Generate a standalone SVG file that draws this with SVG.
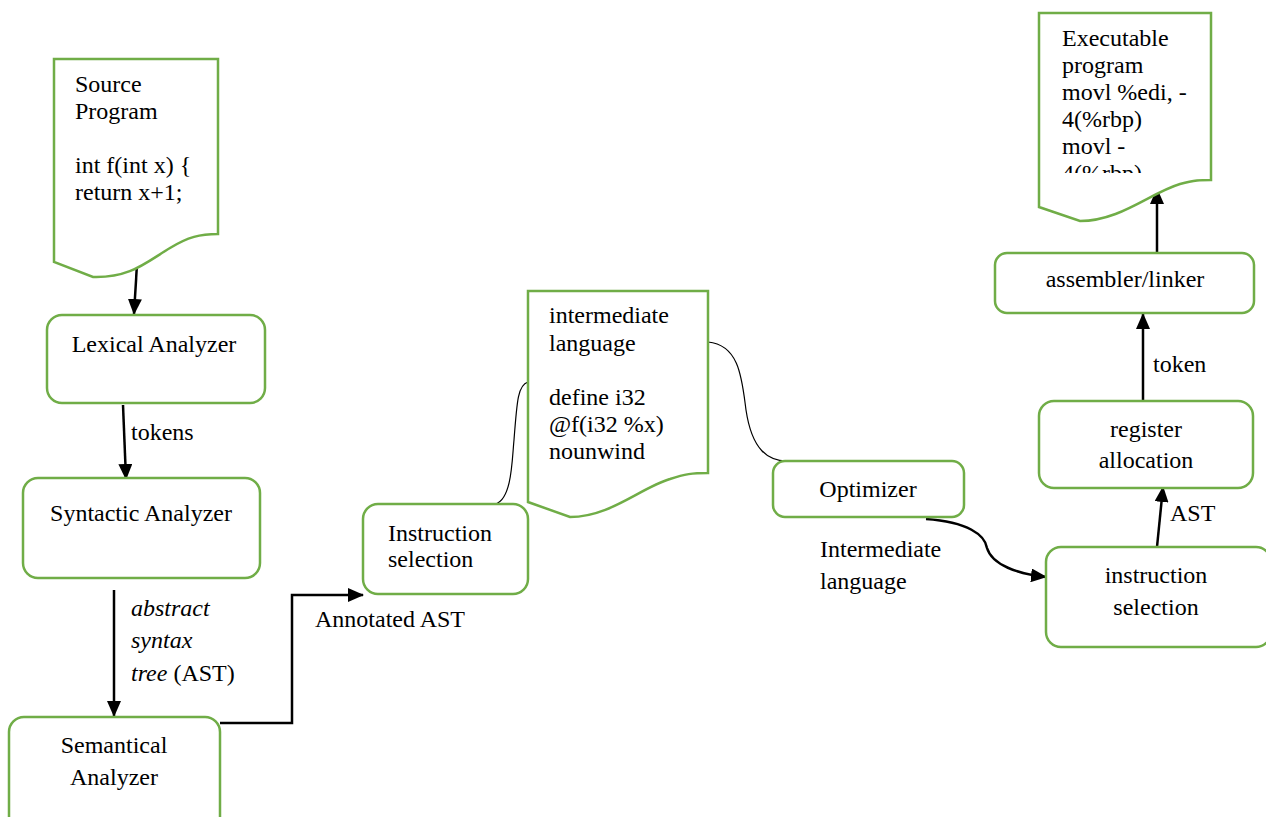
<svg xmlns="http://www.w3.org/2000/svg" width="1266" height="817" viewBox="0 0 1266 817">
<style>
.box{fill:#fff;stroke:#70AD47;stroke-width:2.5}
.doc{fill:#fff;stroke:#70AD47;stroke-width:2.5;stroke-linejoin:miter}
.t{font-family:"Liberation Serif","Times New Roman",serif;font-size:24px;fill:#000}
.c{text-anchor:middle}
.arr{fill:none;stroke:#000;stroke-width:2.5;marker-end:url(#ah)}
.thin{fill:none;stroke:#000;stroke-width:1.2}
</style>
<defs>
<marker id="ah" markerWidth="16" markerHeight="14" viewBox="0 0 16 14" refX="15" refY="7" orient="auto" markerUnits="userSpaceOnUse">
<path d="M0,0 L16,7 L0,14 Z" fill="#000"/>
</marker>
<clipPath id="exclip"><rect x="1040" y="14" width="170" height="159"/></clipPath>
</defs>
<rect width="1266" height="817" fill="#fff"/>

<g id="connectors">
<path class="arr" d="M137,264 L134,314"/>
<path class="arr" d="M123,405 L126,479"/>
<path class="arr" d="M114,590 L114,716"/>
<path class="arr" d="M220,723 H292 V595 H363"/>
<path class="thin" d="M496,504 C512,498 512,460 514,440 C517,400 518,385 528,382"/>
<path class="thin" d="M708,342 C740,345 742,380 746,410 C752,450 768,461 787,461"/>
<path class="arr" d="M926,519 C968,522 985,535 987,548 C992,565 1018,574 1046,577"/>
<path class="arr" d="M1157,547 L1163,487"/>
<path class="arr" d="M1143,401 L1143,314"/>
<path class="arr" d="M1157,253 L1157,189"/>
</g>
<g id="edge-labels">
<text class="t" x="131" y="440">tokens</text>
<text class="t" x="131" y="616" font-style="italic">abstract</text>
<text class="t" x="131" y="648" font-style="italic">syntax</text>
<text class="t" x="131" y="681"><tspan font-style="italic">tree</tspan> (AST)</text>
<text class="t" x="315" y="627">Annotated AST</text>
<text class="t" x="820" y="557">Intermediate</text>
<text class="t" x="820" y="589">language</text>
<text class="t" x="1170" y="521">AST</text>
<text class="t" x="1153" y="372">token</text>
</g>

<g id="source-program">
<path class="doc" d="M54,59 H218 V234 C200,234 188,237 170,248 C145,263 130,278 93,277 L54,262 Z"/>
<text class="t" x="75" y="92">Source</text>
<text class="t" x="75" y="119">Program</text>
<text class="t" x="75" y="173">int f(int x) {</text>
<text class="t" x="75" y="200">return x+1;</text>
</g>

<g id="lexical-analyzer">
<rect class="box" x="47" y="315" width="218" height="88" rx="15"/>
<text class="t c" x="154" y="352">Lexical Analyzer</text>
</g>

<g id="syntactic-analyzer">
<rect class="box" x="23" y="478" width="237" height="100" rx="15"/>
<text class="t c" x="141" y="521">Syntactic Analyzer</text>
</g>

<g id="semantical-analyzer">
<rect class="box" x="9" y="717" width="211" height="115" rx="15"/>
<text class="t c" x="114" y="753">Semantical</text>
<text class="t c" x="114" y="785">Analyzer</text>
</g>

<g id="instruction-selection-1">
<rect class="box" x="363" y="504" width="165" height="90" rx="15"/>
<text class="t" x="388" y="541">Instruction</text>
<text class="t" x="388" y="567">selection</text>
</g>

<g id="intermediate-language">
<path class="doc" d="M528,291 H708 V473 C692,473 685,474 670,479 C640,488 610,517 570,517 L528,502 Z"/>
<text class="t" x="549" y="323">intermediate</text>
<text class="t" x="549" y="351">language</text>
<text class="t" x="549" y="405">define i32</text>
<text class="t" x="549" y="432">@f(i32 %x)</text>
<text class="t" x="549" y="459">nounwind</text>
</g>

<g id="optimizer">
<rect class="box" x="773" y="461" width="191" height="56" rx="12"/>
<text class="t c" x="868" y="497">Optimizer</text>
</g>

<g id="instruction-selection-2">
<rect class="box" x="1046" y="547" width="225" height="100" rx="15"/>
<text class="t c" x="1156" y="583">instruction</text>
<text class="t c" x="1156" y="615">selection</text>
</g>

<g id="register-allocation">
<rect class="box" x="1039" y="401" width="214" height="87" rx="15"/>
<text class="t c" x="1146" y="437">register</text>
<text class="t c" x="1146" y="468">allocation</text>
</g>

<g id="assembler-linker">
<rect class="box" x="995" y="253" width="259" height="60" rx="12"/>
<text class="t c" x="1125" y="287">assembler/linker</text>
</g>

<g id="executable-program">
<path class="doc" d="M1039,13 H1211 V180 C1200,180 1195,180 1180,184 C1150,193 1120,221 1080,221 L1039,207 Z"/>
<g clip-path="url(#exclip)">
<text class="t" x="1062" y="46">Executable</text>
<text class="t" x="1062" y="73">program</text>
<text class="t" x="1062" y="100">movl %edi, -</text>
<text class="t" x="1062" y="127">4(%rbp)</text>
<text class="t" x="1062" y="154">movl -</text>
<text class="t" x="1062" y="181">4(%rbp)</text>
</g>
</g>
</svg>
